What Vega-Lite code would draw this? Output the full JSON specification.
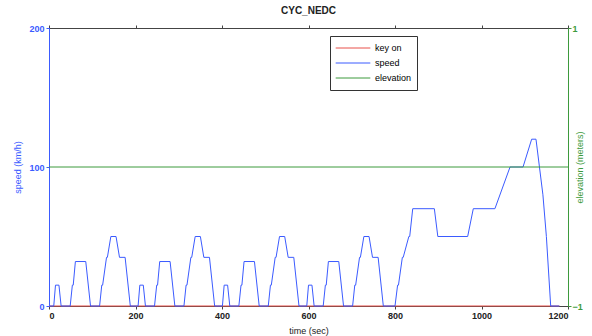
{
  "$schema": "https://vega.github.io/schema/vega-lite/v6.json",
  "width": 519,
  "height": 278,
  "autosize": "none",
  "padding": {"left": 49, "top": 28, "right": 24, "bottom": 30},
  "background": "white",
  "title": {"text": "CYC_NEDC", "fontSize": 10, "fontWeight": "bold", "font": "Liberation Sans", "color": "#222", "offset": 8, "anchor": "middle"},
  "datasets": {
    "speed": [
      {"s": "speed", "t": 0, "v": 0}, {"s": "speed", "t": 11, "v": 0}, {"s": "speed", "t": 15, "v": 15}, {"s": "speed", "t": 23, "v": 15}, {"s": "speed", "t": 28, "v": 0}, {"s": "speed", "t": 49, "v": 0}, {"s": "speed", "t": 54, "v": 15}, {"s": "speed", "t": 56, "v": 15}, {"s": "speed", "t": 61, "v": 32}, {"s": "speed", "t": 85, "v": 32}, {"s": "speed", "t": 96, "v": 0}, {"s": "speed", "t": 117, "v": 0}, {"s": "speed", "t": 122, "v": 15}, {"s": "speed", "t": 124, "v": 15}, {"s": "speed", "t": 133, "v": 35}, {"s": "speed", "t": 135, "v": 35}, {"s": "speed", "t": 143, "v": 50}, {"s": "speed", "t": 155, "v": 50}, {"s": "speed", "t": 163, "v": 35}, {"s": "speed", "t": 176, "v": 35}, {"s": "speed", "t": 188, "v": 0},
      {"s": "speed", "t": 195, "v": 0}, {"s": "speed", "t": 206, "v": 0}, {"s": "speed", "t": 210, "v": 15}, {"s": "speed", "t": 218, "v": 15}, {"s": "speed", "t": 223, "v": 0}, {"s": "speed", "t": 244, "v": 0}, {"s": "speed", "t": 249, "v": 15}, {"s": "speed", "t": 251, "v": 15}, {"s": "speed", "t": 256, "v": 32}, {"s": "speed", "t": 280, "v": 32}, {"s": "speed", "t": 291, "v": 0}, {"s": "speed", "t": 312, "v": 0}, {"s": "speed", "t": 317, "v": 15}, {"s": "speed", "t": 319, "v": 15}, {"s": "speed", "t": 328, "v": 35}, {"s": "speed", "t": 330, "v": 35}, {"s": "speed", "t": 338, "v": 50}, {"s": "speed", "t": 350, "v": 50}, {"s": "speed", "t": 358, "v": 35}, {"s": "speed", "t": 371, "v": 35}, {"s": "speed", "t": 383, "v": 0},
      {"s": "speed", "t": 390, "v": 0}, {"s": "speed", "t": 401, "v": 0}, {"s": "speed", "t": 405, "v": 15}, {"s": "speed", "t": 413, "v": 15}, {"s": "speed", "t": 418, "v": 0}, {"s": "speed", "t": 439, "v": 0}, {"s": "speed", "t": 444, "v": 15}, {"s": "speed", "t": 446, "v": 15}, {"s": "speed", "t": 451, "v": 32}, {"s": "speed", "t": 475, "v": 32}, {"s": "speed", "t": 486, "v": 0}, {"s": "speed", "t": 507, "v": 0}, {"s": "speed", "t": 512, "v": 15}, {"s": "speed", "t": 514, "v": 15}, {"s": "speed", "t": 523, "v": 35}, {"s": "speed", "t": 525, "v": 35}, {"s": "speed", "t": 533, "v": 50}, {"s": "speed", "t": 545, "v": 50}, {"s": "speed", "t": 553, "v": 35}, {"s": "speed", "t": 566, "v": 35}, {"s": "speed", "t": 578, "v": 0},
      {"s": "speed", "t": 585, "v": 0}, {"s": "speed", "t": 596, "v": 0}, {"s": "speed", "t": 600, "v": 15}, {"s": "speed", "t": 608, "v": 15}, {"s": "speed", "t": 613, "v": 0}, {"s": "speed", "t": 634, "v": 0}, {"s": "speed", "t": 639, "v": 15}, {"s": "speed", "t": 641, "v": 15}, {"s": "speed", "t": 646, "v": 32}, {"s": "speed", "t": 670, "v": 32}, {"s": "speed", "t": 681, "v": 0}, {"s": "speed", "t": 702, "v": 0}, {"s": "speed", "t": 707, "v": 15}, {"s": "speed", "t": 709, "v": 15}, {"s": "speed", "t": 718, "v": 35}, {"s": "speed", "t": 720, "v": 35}, {"s": "speed", "t": 728, "v": 50}, {"s": "speed", "t": 740, "v": 50}, {"s": "speed", "t": 748, "v": 35}, {"s": "speed", "t": 761, "v": 35}, {"s": "speed", "t": 773, "v": 0},
      {"s": "speed", "t": 780, "v": 0}, {"s": "speed", "t": 800, "v": 0}, {"s": "speed", "t": 806, "v": 15}, {"s": "speed", "t": 808, "v": 15}, {"s": "speed", "t": 817, "v": 35}, {"s": "speed", "t": 819, "v": 35}, {"s": "speed", "t": 832, "v": 50}, {"s": "speed", "t": 834, "v": 50}, {"s": "speed", "t": 841, "v": 70}, {"s": "speed", "t": 891, "v": 70}, {"s": "speed", "t": 899, "v": 50}, {"s": "speed", "t": 968, "v": 50}, {"s": "speed", "t": 981, "v": 70}, {"s": "speed", "t": 1031, "v": 70}, {"s": "speed", "t": 1066, "v": 100}, {"s": "speed", "t": 1096, "v": 100}, {"s": "speed", "t": 1116, "v": 120}, {"s": "speed", "t": 1126, "v": 120}, {"s": "speed", "t": 1142, "v": 80}, {"s": "speed", "t": 1150, "v": 50}, {"s": "speed", "t": 1160, "v": 0}, {"s": "speed", "t": 1180, "v": 0}
    ],
    "flat": [{"s": "key on", "t": 0, "v": 0}, {"s": "key on", "t": 1180, "v": 0}],
    "elev": [{"s": "elevation", "t": 0, "v": 0}, {"s": "elevation", "t": 1200, "v": 0}]
  },
  "layer": [
    {
      "layer": [
        {
          "data": {"name": "flat"},
          "mark": {"type": "line", "strokeWidth": 1.2},
          "encoding": {
            "x": {"field": "t", "type": "quantitative", "scale": {"domain": [0, 1200], "nice": false},
                  "axis": {"title": "time (sec)", "values": [0, 200, 400, 600, 800, 1000, 1200], "format": "d", "orient": "bottom"}},
            "y": {"field": "v", "type": "quantitative"},
            "color": {"field": "s", "type": "nominal",
                      "scale": {"domain": ["key on", "speed", "elevation"], "range": ["#e8504a", "#3b5bff", "#3d9a3d"]},
                      "legend": {"title": null}}
          }
        },
        {
          "data": {"name": "speed"},
          "mark": {"type": "line", "strokeWidth": 1},
          "encoding": {
            "x": {"field": "t", "type": "quantitative"},
            "y": {"field": "v", "type": "quantitative", "scale": {"domain": [0, 200], "nice": false},
                  "axis": {"title": "speed (km/h)", "values": [0, 100, 200], "format": "d", "orient": "left",
                           "labelColor": "#3b5bff", "titleColor": "#3b5bff", "domainColor": "#3b5bff", "tickColor": "#3b5bff"}},
            "color": {"field": "s", "type": "nominal"}
          }
        }
      ]
    },
    {
      "data": {"name": "elev"},
      "mark": {"type": "line", "strokeWidth": 1},
      "encoding": {
        "x": {"field": "t", "type": "quantitative",
              "axis": {"orient": "top", "labels": false, "title": null, "values": [0, 200, 400, 600, 800, 1000, 1200]}},
        "y": {"field": "v", "type": "quantitative", "scale": {"domain": [-1, 1], "nice": false},
              "axis": {"title": "elevation (meters)", "values": [-1, 0, 1], "format": "d", "orient": "right", "titleAngle": 270, "titlePadding": 2, "labelPadding": 1,
                       "labelColor": "#3d9a3d", "titleColor": "#3d9a3d", "domainColor": "#3d9a3d", "tickColor": "#3d9a3d"}},
        "color": {"field": "s", "type": "nominal"}
      }
    }
  ],
  "resolve": {"scale": {"y": "independent"}, "axis": {"x": "independent", "y": "independent"}},
  "config": {
    "view": {"stroke": "#666"},
    "axis": {"grid": false, "labelFont": "Liberation Sans", "titleFont": "Liberation Sans", "labelFontSize": 9, "titleFontSize": 9,
             "titleFontWeight": "normal", "labelFontWeight": "bold", "tickSize": 3, "labelPadding": 2, "titlePadding": 6, "domainColor": "#444", "tickColor": "#444", "labelColor": "#222", "titleColor": "#222"},
    "legend": {"orient": "none", "legendX": 281, "legendY": 8, "strokeColor": "#333", "fillColor": "white", "padding": 5,
               "symbolType": "stroke", "symbolSize": 1200, "clipHeight": 14, "symbolStrokeWidth": 1, "labelFont": "Liberation Sans", "labelFontSize": 9, "rowPadding": 1, "labelOffset": 4}
  }
}
